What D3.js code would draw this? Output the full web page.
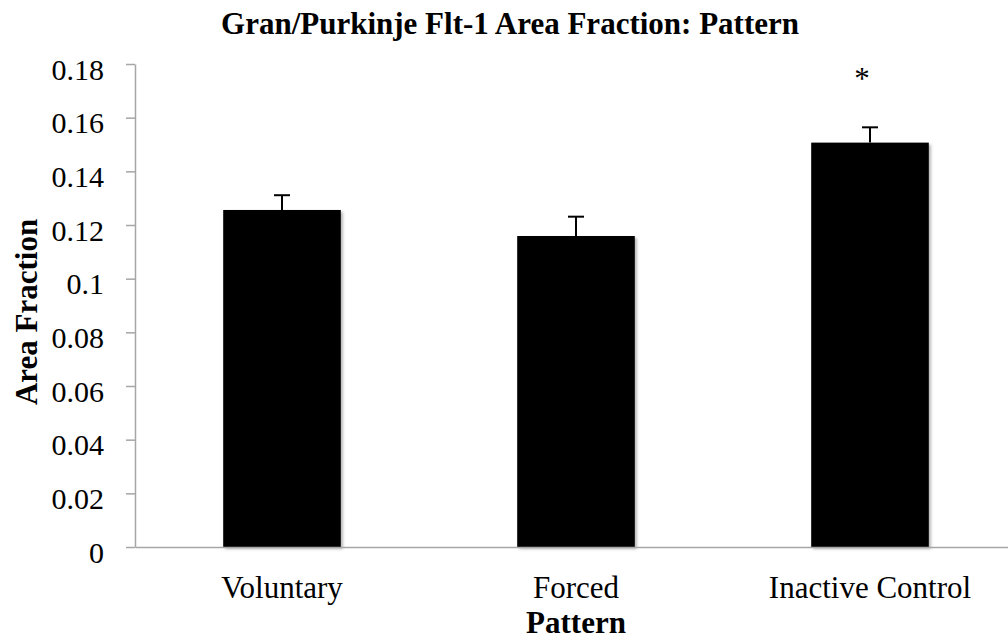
<!DOCTYPE html>
<html lang="en">
  <head>
    <meta charset="UTF-8" />
    <title>Gran/Purkinje Flt-1 Area Fraction: Pattern</title>
    <script src="https://d3js.org/d3.v7.min.js"></script>
    <style>
      body {
        margin: 0;
        background: #fff;
      }
      svg,
      svg text {
        display: block;
        font-family: "Liberation Serif", "Times New Roman", serif;
      }
      .axis path,
      .axis line {
        stroke: #a6a6a6;
        stroke-width: 1.5px;
      }
      .axis text {
        fill: #000;
        font-family: "Liberation Serif", "Times New Roman", serif;
      }
    </style>
  </head>
  <body>
    <svg id="chart" width="1008" height="641"></svg>

    <script>
      const categories = ["Voluntary", "Forced", "Inactive Control"];
      const values = [0.1256, 0.1159, 0.1507];
      const errors = [0.0055, 0.0072, 0.0057];
      const significant = [false, false, true];
      const tickValues = [0, 0.02, 0.04, 0.06, 0.08, 0.1, 0.12, 0.14, 0.16, 0.18];
      const tickLabels = ["0", "0.02", "0.04", "0.06", "0.08", "0.1", "0.12", "0.14", "0.16", "0.18"];

      const data = categories.map((c, i) => ({
        name: c,
        value: values[i],
        err: errors[i],
        star: significant[i],
      }));

      const svg = d3.select("#chart");

      // soft shadow like the Excel bars
      svg
        .append("defs")
        .append("filter")
        .attr("id", "shadow")
        .attr("x", "-10%")
        .attr("y", "-10%")
        .attr("width", "130%")
        .attr("height", "130%")
        .append("feDropShadow")
        .attr("dx", 2)
        .attr("dy", 2)
        .attr("stdDeviation", 1.5)
        .attr("flood-color", "#000")
        .attr("flood-opacity", 0.3);

      const x = d3
        .scaleBand()
        .domain(categories)
        .range([135, 1017])
        .paddingInner(0.6)
        .paddingOuter(0.3);

      const y = d3.scaleLinear().domain([0, 0.18]).range([547, 64]);

      // y axis
      svg
        .append("g")
        .attr("class", "axis")
        .attr("transform", "translate(135,0)")
        .call(
          d3
            .axisLeft(y)
            .tickValues(tickValues)
            .tickFormat((d, i) => tickLabels[i])
            .tickSizeInner(9)
            .tickSizeOuter(0)
            .tickPadding(22)
        )
        .attr("font-family", null)
        .attr("font-size", 30)
        .call((g) => g.selectAll("text").attr("dy", "0.5em"));

      // bars
      svg
        .selectAll(".bar")
        .data(data)
        .enter()
        .append("rect")
        .attr("class", "bar")
        .attr("x", (d) => x(d.name))
        .attr("y", (d) => y(d.value))
        .attr("width", x.bandwidth())
        .attr("height", (d) => y(0) - y(d.value))
        .attr("fill", "#000")
        .attr("filter", "url(#shadow)");

      // x axis (drawn after bars so the line sits on top)
      svg
        .append("g")
        .attr("class", "axis")
        .attr("transform", "translate(0,547)")
        .call(d3.axisBottom(x).tickSize(0).tickPadding(29))
        .attr("font-family", null)
        .attr("font-size", 31)
        .call((g) => g.select(".domain").attr("stroke-width", 2));

      // error bars
      const cx = (d) => x(d.name) + x.bandwidth() / 2;
      const errG = svg.selectAll(".err").data(data).enter().append("g");
      errG
        .append("line")
        .attr("x1", cx)
        .attr("x2", cx)
        .attr("y1", (d) => y(d.value))
        .attr("y2", (d) => y(d.value + d.err))
        .attr("stroke", "#000")
        .attr("stroke-width", 2);
      errG
        .append("line")
        .attr("x1", (d) => cx(d) - 8)
        .attr("x2", (d) => cx(d) + 8)
        .attr("y1", (d) => y(d.value + d.err))
        .attr("y2", (d) => y(d.value + d.err))
        .attr("stroke", "#000")
        .attr("stroke-width", 2);

      // significance marker
      svg
        .selectAll(".star")
        .data(data.filter((d) => d.star))
        .enter()
        .append("text")
        .attr("x", (d) => cx(d) - 8)
        .attr("y", 89)
        .attr("text-anchor", "middle")
        .style("font-size", "31px")
        .text("*");

      // titles
      svg
        .append("text")
        .attr("x", 510)
        .attr("y", 34)
        .attr("text-anchor", "middle")
        .style("font-size", "31px")
        .style("font-weight", "bold")
        .text("Gran/Purkinje Flt-1 Area Fraction: Pattern");

      svg
        .append("text")
        .attr("x", x("Forced") + x.bandwidth() / 2)
        .attr("y", 633)
        .attr("text-anchor", "middle")
        .style("font-size", "31px")
        .style("font-weight", "bold")
        .text("Pattern");

      svg
        .append("text")
        .attr("transform", "translate(37,312) rotate(-90)")
        .attr("text-anchor", "middle")
        .style("font-size", "31px")
        .style("font-weight", "bold")
        .text("Area Fraction");
    </script>
  </body>
</html>
